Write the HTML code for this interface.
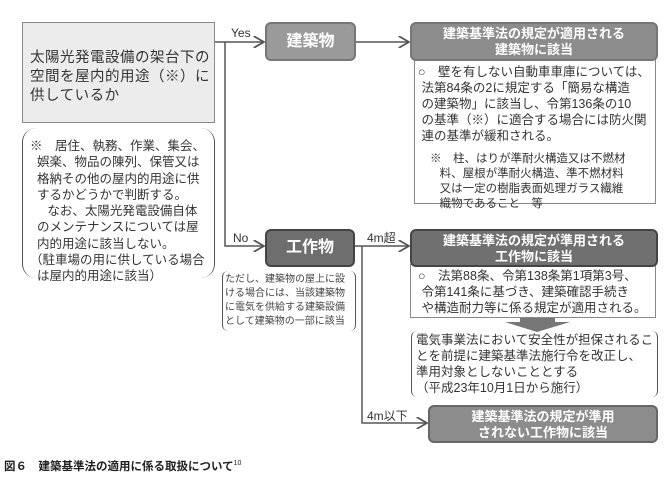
<!DOCTYPE html>
<html><head><meta charset="utf-8"><style>
body{margin:0;width:670px;height:480px;background:#fff;position:relative;font-family:"Liberation Sans","Noto Sans CJK JP",sans-serif;color:#333;overflow:hidden}
.a{position:absolute;box-sizing:border-box}
.hd{color:#fff;font-weight:bold;text-align:center;border-radius:6px;border:2px solid #666}
.t{font-size:12px;line-height:16px}
</style></head><body>
<div class="a" style="left:22px;top:22px;width:193px;height:101px;background:#ececec;border:1px solid #888;padding:26px 0 0 7px;font-size:14.5px;line-height:19px;letter-spacing:0.5px">太陽光発電設備の架台下の<br>空間を屋内的用途（※）に<br>供しているか</div>
<div class="a t" style="left:22px;top:128px;width:193px;height:150px;border-left:1.5px solid #555;border-right:1.5px solid #555;border-radius:14px;padding:10px 2px 0 7px;font-size:12.5px;line-height:16.3px">※　居住、執務、作業、集会、<br>&nbsp;&nbsp;娯楽、物品の陳列、保管又は<br>&nbsp;&nbsp;格納その他の屋内的用途に供<br>&nbsp;&nbsp;するかどうかで判断する。<br>&nbsp;&nbsp;&nbsp;&nbsp;&nbsp;なお、太陽光発電設備自体<br>&nbsp;&nbsp;のメンテナンスについては屋<br>&nbsp;&nbsp;内的用途に該当しない。<br>（駐車場の用に供している場合<br>&nbsp;&nbsp;は屋内的用途に該当）</div>
<svg class="a" style="left:0;top:0" width="670" height="480">
<defs><marker id="m" markerWidth="8" markerHeight="8" refX="7" refY="4" orient="auto"><path d="M0,0 L7,4 L0,8" fill="none" stroke="#555" stroke-width="1.2"/></marker></defs>
<g stroke="#555" stroke-width="1.5" fill="none">
<path d="M215 42 H264" marker-end="url(#m)"/>
<path d="M225 42 V246 H264" marker-end="url(#m)"/>
<path d="M356 42 H409" marker-end="url(#m)"/>
<path d="M355 246 H409" marker-end="url(#m)"/>
<path d="M362 246 V423 H427" marker-end="url(#m)"/>
</g>
<path d="M520 317 H555 V322 H570 L537 332 L505 322 H520Z" fill="#777"/>
<text x="231" y="37" font-size="12" fill="#333">Yes</text>
<text x="233" y="242" font-size="12" fill="#333">No</text>
<text x="367" y="242" font-size="12" fill="#333">4m超</text>
<text x="367" y="420" font-size="12" fill="#333">4m以下</text>
</svg>
<div class="a hd" style="left:265px;top:22px;width:91px;height:39px;background:#9a9a9a;border-color:#777;font-size:16px;line-height:35px">建築物</div>
<div class="a" style="left:414px;top:58px;width:242px;height:146px;border:1px solid #888"></div>
<div class="a hd" style="left:410px;top:22px;width:248px;height:39px;background:#8c8c8c;border-color:#777;font-size:13px;line-height:16px;padding-top:2px">建築基準法の規定が適用される<br>建築物に該当</div>
<div class="a t" style="left:418px;top:64px;width:238px;font-size:12.5px">○　壁を有しない自動車車庫については、<br>&nbsp;法第84条の2に規定する「簡易な構造<br>&nbsp;の建築物」に該当し、令第136条の10<br>&nbsp;の基準（※）に適合する場合には防火関<br>&nbsp;連の基準が緩和される。</div>
<div class="a t" style="left:430px;top:152px;width:228px;font-size:11.5px;line-height:15px">※　柱、はりが準耐火構造又は不燃材<br>&nbsp;&nbsp;&nbsp;料、屋根が準耐火構造、準不燃材料<br>&nbsp;&nbsp;&nbsp;又は一定の樹脂表面処理ガラス繊維<br>&nbsp;&nbsp;&nbsp;織物であること　等</div>
<div class="a hd" style="left:265px;top:229px;width:90px;height:38px;background:#6e6e6e;border-color:#444;font-size:16px;line-height:34px">工作物</div>
<div class="a" style="left:222px;top:271px;width:134px;height:60px;border-left:1px solid #555;border-right:1px solid #555;border-radius:6px;padding:2px 0 0 2px;font-size:10px;line-height:14px;color:#444">ただし、建築物の屋上に設<br>ける場合には、当該建築物<br>に電気を供給する建築設備<br>として建築物の一部に該当</div>
<div class="a" style="left:410px;top:264px;width:246px;height:54px;border:1px solid #888"></div>
<div class="a hd" style="left:410px;top:229px;width:248px;height:38px;background:#707070;border-color:#444;font-size:13px;line-height:16px;padding-top:2px">建築基準法の規定が準用される<br>工作物に該当</div>
<div class="a t" style="left:418px;top:268px;width:240px;font-size:12.5px">○　法第88条、令第138条第1項第3号、<br>&nbsp;令第141条に基づき、建築確認手続き<br>&nbsp;や構造耐力等に係る規定が適用される。</div>
<div class="a t" style="left:411px;top:331px;width:247px;height:66px;border-left:1px solid #555;border-right:1px solid #555;border-radius:6px;padding:1px 0 0 4px;font-size:12.5px">電気事業法において安全性が担保されるこ<br>とを前提に建築基準法施行令を改正し、<br>準用対象としないこととする<br>（平成23年10月1日から施行）</div>
<div class="a hd" style="left:428px;top:405px;width:230px;height:38px;background:#8c8c8c;border-color:#666;font-size:13px;line-height:16px;padding-top:2px">建築基準法の規定が準用<br>されない工作物に該当</div>
<div class="a" style="left:4px;top:458px;font-size:11.5px;font-weight:bold;color:#222">図６　建築基準法の適用に係る取扱について<sup style="font-size:7px;font-weight:normal">10</sup></div>
</body></html>
